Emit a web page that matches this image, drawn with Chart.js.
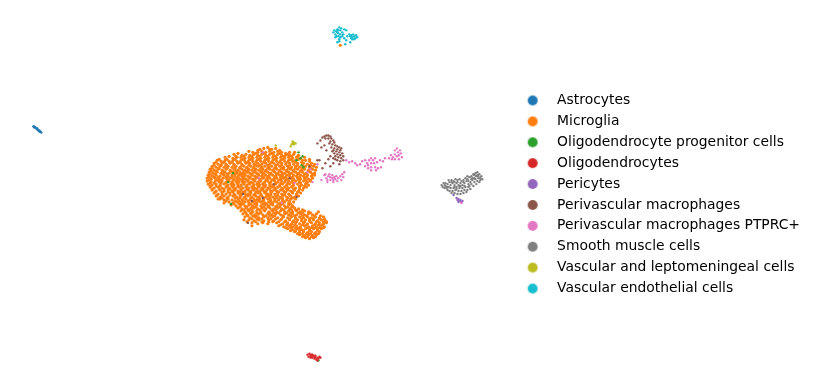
<!DOCTYPE html>
<html><head><meta charset="utf-8">
<style>html,body{margin:0;padding:0;background:#fff}canvas{display:block}</style>
<script src="https://cdn.jsdelivr.net/npm/chart.js@4"></script>
</head><body><canvas id="c" width="817" height="389"></canvas>
<script>
const categories=["Astrocytes","Microglia","Oligodendrocyte progenitor cells","Oligodendrocytes","Pericytes","Perivascular macrophages","Perivascular macrophages PTPRC+","Smooth muscle cells","Vascular and leptomeningeal cells","Vascular endothelial cells"];
const palette=["#1f77b4","#ff7f0e","#2ca02c","#d62728","#9467bd","#8c564b","#e377c2","#7f7f7f","#bcbd22","#17becf"];
// flat x,y lists (UMAP position in picture units)
const astrocytes=[32,126,33,127,34,127,35,128,36,129,37,130,38,130,39,131,40,132,33,126,36,128,38,131];
const microglia=[
264,148,268,147,272,149,276,148,258,150,
249,151,253,152,258,152,262,151,266,152,270,151,274,152,278,151,282,152,286,153,290,152,
234,154,238,153,242,155,246,154,250,155,254,154,258,155,262,154,266,155,270,154,274,155,278,154,282,155,286,155,290,155,294,154,298,156,
225,157,229,156,233,158,237,157,241,157,245,158,249,157,253,158,257,157,261,158,265,157,269,158,273,157,277,158,281,157,285,158,289,157,293,158,297,157,301,158,305,157,
217,160,221,161,225,160,229,161,233,160,237,161,241,160,245,161,249,160,253,161,257,160,261,161,265,160,269,161,273,160,277,161,281,160,285,161,289,160,293,161,306,160,310,161,
214,163,218,164,222,163,226,164,230,163,234,164,238,163,242,164,246,163,250,163,254,164,258,163,262,164,266,163,270,164,274,163,278,164,282,163,286,164,290,163,294,164,298,163,308,164,312,163,315,164,
212,166,216,167,220,166,224,167,228,166,232,167,236,166,240,167,244,166,247,167,251,166,254,167,258,166,262,167,265,166,269,167,272,166,276,167,280,166,284,167,288,166,292,167,296,166,300,167,306,166,310,167,314,166,317,167,
210,169,214,170,218,169,222,170,226,169,230,170,234,169,238,170,242,169,245,170,249,169,252,170,256,169,259,170,263,169,266,170,270,169,273,170,277,169,280,170,284,169,287,170,291,169,294,170,298,169,302,170,305,169,309,170,313,169,316,170,
209,172,213,173,217,172,221,173,225,172,229,173,233,172,237,173,240,172,243,173,247,172,250,173,254,172,257,173,261,172,264,173,268,172,271,173,275,172,278,173,282,172,285,173,289,172,292,173,296,172,299,173,303,172,307,173,311,172,315,173,
208,175,212,176,216,175,220,176,224,175,228,176,232,175,235,176,239,175,242,176,245,175,248,176,252,175,255,176,259,175,262,176,266,175,269,176,273,175,276,176,280,175,283,176,287,175,290,176,294,175,297,176,301,175,304,176,308,175,312,176,315,175,
207,178,211,179,215,178,219,179,223,178,227,179,230,178,234,179,237,178,240,179,243,178,246,179,250,178,253,179,256,178,260,179,263,178,267,179,270,178,274,179,277,178,281,179,284,178,288,179,291,178,294,179,298,178,301,179,305,178,309,179,313,178,
207,181,211,182,215,181,219,182,222,181,226,182,229,181,232,182,236,181,239,182,242,181,245,182,248,181,251,182,255,181,258,182,261,181,265,182,268,181,271,182,275,181,278,182,282,181,285,182,289,181,292,182,296,181,300,182,304,181,308,182,311,181,
208,184,212,185,216,184,220,185,224,184,228,185,231,184,234,185,238,184,241,185,244,184,247,185,250,184,254,185,257,184,260,185,263,184,266,185,270,184,273,185,276,184,280,185,283,184,287,185,290,184,294,185,298,184,302,185,306,184,309,185,
210,187,214,188,218,187,222,188,226,187,229,188,233,187,236,188,239,187,243,188,246,187,249,188,252,187,255,188,259,187,262,188,265,187,268,188,272,187,275,188,278,187,282,188,285,187,289,188,292,187,296,188,300,187,304,188,307,187,
212,190,216,191,220,190,224,191,228,190,232,191,235,190,238,191,241,190,245,191,248,190,251,191,254,190,258,191,261,190,264,191,267,190,271,191,274,190,277,191,281,190,284,191,288,190,291,191,295,190,299,191,303,190,
214,193,218,194,222,193,226,194,230,193,234,194,238,193,241,194,245,193,248,194,251,193,255,194,258,193,261,194,265,193,268,194,271,193,275,194,278,193,282,194,285,193,289,194,293,193,297,194,301,193,
216,196,220,197,224,196,228,197,233,196,237,197,241,196,245,197,248,196,252,197,256,196,259,197,262,196,266,197,269,196,273,197,276,196,280,197,283,196,287,197,291,196,295,197,299,196,
220,199,224,200,228,199,232,200,238,199,242,200,246,199,250,200,254,199,257,200,260,199,264,200,268,199,271,200,275,199,279,200,283,199,287,200,291,199,296,199,
224,203,229,202,233,203,237,202,241,203,245,202,249,203,253,202,257,203,261,202,265,203,269,202,273,203,277,202,281,203,285,202,289,203,294,202,
231,205,236,206,241,205,245,206,249,205,253,206,257,205,261,206,265,205,269,206,273,205,277,206,281,205,285,206,289,205,293,206,
238,208,242,209,246,208,250,209,254,208,258,209,262,208,266,209,270,208,274,209,278,208,282,209,286,208,290,209,295,208,299,209,
241,211,245,212,249,211,253,212,257,211,261,212,265,211,269,212,273,211,277,212,281,211,285,212,289,211,293,212,297,211,301,212,305,211,309,212,
243,214,247,215,251,214,255,215,259,214,263,215,268,214,272,215,276,214,281,215,285,214,289,215,293,214,297,215,301,214,305,215,309,214,313,215,317,214,
245,217,250,218,255,217,259,218,264,217,268,218,273,217,278,218,284,217,288,218,292,217,296,218,300,217,304,218,308,217,312,218,316,217,320,218,324,217,
249,220,254,221,259,220,264,221,269,220,274,221,281,220,286,221,290,220,294,221,298,220,302,221,306,220,310,221,314,220,318,221,322,220,326,221,
252,223,258,224,263,223,269,222,277,223,283,224,288,223,292,224,296,223,300,224,304,223,308,224,312,223,316,224,320,223,324,224,327,223,
279,226,284,227,289,226,293,227,297,226,301,227,305,226,309,227,313,226,317,227,321,226,325,227,
288,229,293,230,298,229,302,230,306,229,310,230,314,229,318,230,322,229,
295,232,300,233,304,232,308,233,312,232,316,233,320,232,
300,235,305,236,309,235,313,236,317,235,
306,238,310,239,314,238,
327,222,319,212,247,222,341,44,
// second pass: cells lying between the rows above
260,149,270,149,280,150,256,153,264,153,272,153,280,153,288,154,295,152,
236,156,244,156,252,156,260,156,268,156,276,156,284,156,292,156,299,155,303,160,
219,159,227,159,235,159,243,159,251,159,259,159,267,159,275,159,283,159,291,159,299,159,296,160,302,162,
216,162,224,162,232,162,240,162,248,162,256,162,264,162,272,162,280,162,288,162,296,162,304,163,310,159,
214,165,221,165,226,165,234,165,242,165,249,165,256,165,260,165,268,165,276,165,282,165,290,165,298,165,303,165,311,165,
212,168,219,168,227,168,235,168,240,168,247,168,254,168,261,168,268,168,275,168,282,168,289,168,296,168,303,168,311,168,
211,171,216,171,223,171,231,171,236,171,244,171,248,171,255,171,262,171,266,171,274,171,280,171,287,171,294,171,301,171,309,171,
210,174,215,174,223,174,227,174,235,174,241,174,245,174,252,174,258,174,263,174,270,174,277,174,283,174,290,174,298,174,305,174,313,174,
209,177,214,177,218,177,226,177,232,177,238,177,244,177,250,177,257,177,264,177,268,177,275,177,281,177,286,177,293,177,300,177,307,177,
209,180,217,180,221,180,228,180,233,180,238,180,243,180,248,180,254,180,260,180,266,180,272,180,279,180,286,180,293,180,299,180,306,180,311,180,
210,183,214,183,221,183,226,183,233,183,237,183,243,183,249,183,253,183,259,183,264,183,270,183,276,183,281,183,288,183,294,183,301,183,307,183,
210,186,216,186,220,186,227,186,232,186,238,186,241,186,247,186,253,186,258,186,264,186,270,186,274,186,280,186,287,186,293,186,300,186,305,186,
212,189,219,189,224,189,230,189,234,189,241,189,247,189,253,189,257,189,263,189,270,189,276,189,283,189,287,189,294,189,300,189,
215,192,222,192,228,192,233,192,240,192,243,192,250,192,256,192,260,192,266,192,272,192,279,192,286,192,293,192,298,192,
217,195,222,195,230,195,235,195,240,195,246,195,250,195,254,195,261,195,267,195,271,195,278,195,285,195,290,195,297,195,
222,198,227,198,235,198,240,198,244,198,251,198,258,198,264,198,270,198,277,198,281,198,288,198,293,198,
226,201,235,201,239,201,243,201,248,201,255,201,259,201,263,201,271,201,275,201,283,201,290,201,
234,204,239,204,243,204,251,204,255,204,263,204,267,204,271,204,279,204,283,204,291,204,
240,207,247,207,252,207,256,207,264,207,268,207,276,207,280,207,288,207,292,207,
244,210,248,210,252,210,260,210,264,210,272,210,276,210,284,210,292,210,296,210,303,210,
246,213,251,213,257,213,261,213,270,213,274,213,279,213,287,213,291,213,299,213,303,213,311,213,
248,216,253,216,257,216,266,216,270,216,275,216,283,216,291,216,295,216,303,216,307,216,315,216,321,216,
252,219,257,219,262,219,271,219,276,219,282,219,290,219,296,219,302,219,310,219,314,219,320,219,325,219,
256,222,262,222,273,222,279,222,285,222,293,222,297,222,305,222,311,222,317,222,324,222,
281,225,287,225,291,225,295,225,303,225,307,225,315,225,319,225,323,225,
286,228,291,228,296,228,300,228,308,228,312,228,316,228,320,228,324,228,
291,231,296,231,300,231,304,231,310,231,318,231,
298,234,303,234,307,234,311,234,315,234,319,234,
303,237,308,237,312,237,316,237,
244,220,252,226,268,224,218,199
];
const opc=[299,152,297,160,301,158,303,156,302,165,304,167,233,173,228,182,231,204,319,362];
const oligodendrocytes=[308,356,309,358,310,355,311,357,312,356,312,358,313,359,314,357,315,358,315,360,316,359,317,361,318,359,319,360,320,358,321,359,313,356,311,359,316,357,318,362];
const pericytes=[455,195,458,198,459,200,460,199,461,201,462,200,463,202,464,201,460,202];
const macrophages=[318,143,321,140,323,137,325,136,327,135,329,135,331,136,326,138,329,138,332,138,334,140,331,141,335,142,333,144,336,145,338,146,332,147,335,148,338,149,341,150,334,150,337,151,340,152,343,153,335,153,338,154,341,155,344,156,336,156,339,157,342,158,334,158,338,160,341,161,331,156,325,145,322,147,327,150,320,160,318,160,323,168,326,163,331,166,334,163,340,164,344,160,329,159,290,178,274,184,243,194,252,201,263,198,297,197,248,223,310,166,330,143,333,151,340,147,342,148,336,159];
const ptprc=[325,175,327,178,329,176,331,177,333,178,335,177,337,176,328,180,331,180,334,180,336,179,339,178,341,176,343,174,345,172,326,174,330,174,333,175,338,181,334,182,322,180,328,182,342,180,344,177,
347,160,350,162,353,161,356,163,358,165,361,164,363,161,366,160,368,163,370,160,372,158,374,160,376,158,369,165,372,163,375,163,378,162,366,166,369,168,372,167,376,167,379,168,382,167,372,170,377,170,381,160,384,161,386,158,
390,158,392,155,394,157,396,154,398,156,400,155,402,153,399,152,396,150,398,148,401,150,403,157,396,159,400,159,393,159,
263,152,295,183,282,203,259,178,308,172,313,182,318,164,311,169,463,203];
const smooth=[443,185,445,183,447,186,449,184,451,182,453,180,455,181,457,179,459,180,461,179,463,181,465,180,467,178,469,179,471,177,473,176,475,174,477,173,479,172,481,174,483,176,484,179,482,180,480,178,478,176,476,178,474,180,472,182,470,184,468,181,466,183,464,185,462,183,460,185,458,183,456,185,454,183,452,185,450,187,448,188,446,188,444,187,452,188,455,188,458,187,461,188,464,188,467,187,470,187,473,184,476,182,479,181,481,182,478,184,475,186,472,189,469,190,466,190,463,191,460,191,457,190,454,191,451,191,449,190,453,193,456,193,459,194,462,194,465,193,468,192,471,186,474,178,477,179,480,176,458,189,461,186,465,182,469,176,456,182,450,180,447,183,446,185,449,187,453,182,456,187,459,182,462,186,466,186,470,181,473,179,476,175,479,175,482,178];
const vlmc=[293,141,294,142,295,143,292,144,294,144,296,143,293,143,276,145,291,146];
const endothelial=[334,31,335,29,336,33,337,30,338,28,339,32,340,26,341,29,342,27,337,35,339,35,341,33,343,35,345,28,347,29,343,31,340,38,338,41,340,40,345,37,347,39,348,35,350,33,351,35,352,34,353,36,354,33,355,35,356,37,357,34,358,36,353,38,351,41,346,43,355,38,336,36,338,31,341,36,344,33,339,29,352,37];
const legendRadius=5;

function pairs(a){const o=[];for(let i=0;i<a.length;i+=2)o.push({x:a[i],y:a[i+1]});return o;}
function dot(color){const s=document.createElement('canvas');s.width=s.height=legendRadius*2+2;const g=s.getContext('2d');g.fillStyle=color;g.beginPath();g.arc(legendRadius+1,legendRadius+1,legendRadius,0,Math.PI*2);g.fill();return s;}
const values=[astrocytes,microglia,opc,oligodendrocytes,pericytes,macrophages,ptprc,smooth,vlmc,endothelial];
const order=[1,0,3,7,4,5,6,8,9,2];
const datasets=values.map((v,i)=>({label:categories[i],data:pairs(v),backgroundColor:palette[i],borderWidth:0,pointRadius:i===1?1.6:1.2,pointHoverRadius:1.2,order:order[i]*-1}));
new Chart(document.getElementById('c'),{type:'scatter',data:{datasets},options:{
 responsive:false,animation:false,
 layout:{padding:{left:0,right:7,top:0,bottom:0}},
 scales:{x:{display:false,min:0,max:510},y:{display:false,min:0,max:389,reverse:true}},
 plugins:{tooltip:{enabled:false},legend:{position:'right',align:'center',
  labels:{usePointStyle:true,pointStyleWidth:35,boxHeight:7,padding:7,color:'#000',font:{family:'"DejaVu Sans"',size:13.89},
   generateLabels(chart){return categories.map((t,i)=>({text:t,fillStyle:palette[i],strokeStyle:palette[i],lineWidth:0,pointStyle:dot(palette[i]),hidden:false,datasetIndex:i,fontColor:'#000'}));}}}}
}});
</script></body></html>
